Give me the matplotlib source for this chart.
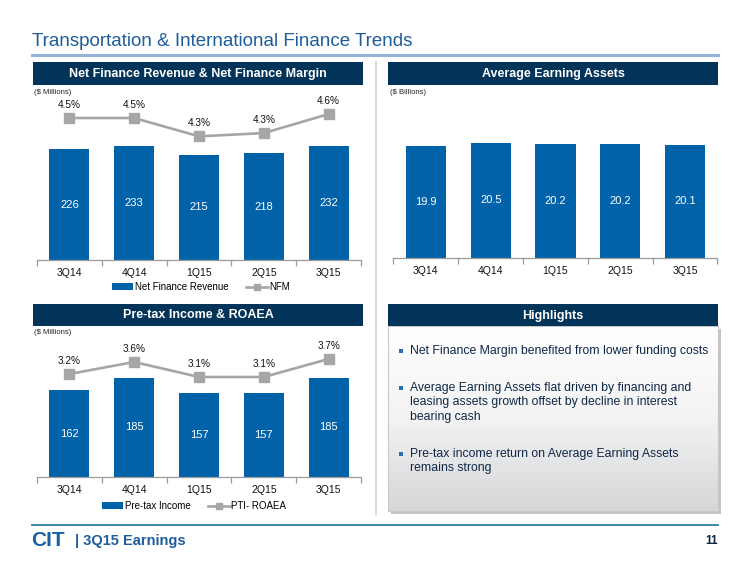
import numpy as np
import matplotlib
matplotlib.use("Agg")
import matplotlib.pyplot as plt
from matplotlib.patches import Rectangle
from matplotlib.lines import Line2D
from matplotlib.colors import LinearSegmentedColormap

plt.rcParams['font.family'] = ['Liberation Sans', 'DejaVu Sans']

# ---------------- data ----------------
quarters = ["3Q14", "4Q14", "1Q15", "2Q15", "3Q15"]
net_finance_revenue = [226, 233, 215, 218, 232]
nfm_pct = [4.54, 4.54, 4.26, 4.31, 4.60]
avg_earning_assets = [19.9, 20.5, 20.2, 20.2, 20.1]
pretax_income = [162, 185, 157, 157, 185]
pti_roaea_pct = [3.2, 3.6, 3.1, 3.1, 3.7]

title = "Transportation & International Finance Trends"
highlights = [
    ["Net Finance Margin benefited from lower funding costs"],
    ["Average Earning Assets flat driven by financing and",
     "leasing assets growth offset by decline in interest",
     "bearing cash"],
    ["Pre-tax income return on Average Earning Assets",
     "remains strong"],
]

# ---------------- style ----------------
W, H = 750, 563
BAR = '#0062a8'
NAVY = '#02345a'
GREY = '#a6a6a6'
TITLE_BLUE = '#1f5c9c'
TEXT_NAVY = '#0f2747'

fig = plt.figure(figsize=(W / 100, H / 100), dpi=100)


def frect(x0, y0, x1, y1):
    return [x0 / W, 1 - y1 / H, (x1 - x0) / W, (y1 - y0) / H]


def fp(x, y):
    return (x / W, 1 - y / H)


def ftext(x, y, s, **kw):
    fig.text(x / W, 1 - y / H, s, **kw)


def fbox(x0, y0, x1, y1, **kw):
    fig.patches.append(Rectangle(fp(x0, y1), (x1 - x0) / W, (y1 - y0) / H,
                                 transform=fig.transFigure, **kw))


def fline(xs, ys, **kw):
    fig.lines.append(Line2D([x / W for x in xs], [1 - y / H for y in ys],
                            transform=fig.transFigure, **kw))


# title and rules
ftext(32, 42, title, fontsize=13.5, color=TITLE_BLUE, va='center', ha='left')
fline([32, 718], [55, 55], color='#94b3d9', lw=2.2)
fline([376, 376], [62, 515], color='#cfd3d8', lw=1.2)
fline([32, 718], [525, 525], color='#2f7fa6', lw=1.3)

# header boxes
for (x0, y0, x1, y1, s) in [
        (33, 62, 363, 85, "Net Finance Revenue & Net Finance Margin"),
        (388, 62, 718, 85, "Average Earning Assets"),
        (33, 304, 363, 326, "Pre-tax Income & ROAEA"),
        (388, 304, 718, 326, "Highlights")]:
    fbox(x0, y0, x1, y1, facecolor=NAVY, edgecolor='none')
    ftext((x0 + x1) / 2, (y0 + y1) / 2 + 0.5, s, color='white', fontsize=9,
          fontweight='bold', ha='center', va='center')

ftext(34, 93, "($ Millions)", fontsize=5.5, color='#222222', va='center')
ftext(390, 93, "($ Billions)", fontsize=5.5, color='#222222', va='center')
ftext(34, 333, "($ Millions)", fontsize=5.5, color='#222222', va='center')


def style_axis(ax):
    for sp in ['top', 'left', 'right']:
        ax.spines[sp].set_visible(False)
    ax.spines['bottom'].set_color('#9a9a9a')
    ax.spines['bottom'].set_linewidth(0.9)
    ax.set_yticks([])
    ax.set_xlim(-0.5, 4.5)
    ax.set_xticks(range(5))
    ax.set_xticklabels(quarters, fontsize=7.5, color='#111111')
    ax.tick_params(axis='x', which='major', length=0, pad=6)
    ax.set_xticks(np.arange(-0.5, 5, 1), minor=True)
    ax.tick_params(axis='x', which='minor', length=4, color='#9a9a9a', width=0.9)
    ax.patch.set_alpha(0)


def bar_chart(rect, values, ytop, fmt):
    ax = fig.add_axes(rect)
    bars = ax.bar(range(5), values, width=0.62, color=BAR, zorder=2)
    ax.set_ylim(0, ytop)
    style_axis(ax)
    for i, v in enumerate(values):
        ax.text(i, v / 2, fmt.format(v), color='white', fontsize=8,
                ha='center', va='center', zorder=3)
    return ax, bars


def add_line(ax, values, lo, hi):
    ax2 = ax.twinx()
    ln, = ax2.plot(range(5), values, color=GREY, lw=1.9, marker='s',
                   markersize=6.5, markeredgecolor=GREY, zorder=4)
    ax2.set_ylim(lo, hi)
    ax2.set_yticks([])
    for sp in ax2.spines.values():
        sp.set_visible(False)
    for i, v in enumerate(values):
        ax2.annotate(f"{v:.1f}%", (i, v), xytext=(0, 9.7),
                     textcoords='offset points', ha='center', va='center',
                     fontsize=7.2, color='#111111')
    return ln


legend_kw = dict(loc='center', ncol=2, frameon=False, fontsize=7,
                 handlelength=2.2, handletextpad=0.2, columnspacing=1.8,
                 handleheight=0.6, markerscale=0.7)

# top-left chart
ax1, b1 = bar_chart(frect(37, 100, 361, 260), net_finance_revenue, 327, "{:d}")
l1 = add_line(ax1, nfm_pct, 2.372, 4.815)
fig.legend([b1, l1], ["Net Finance Revenue", "NFM"],
           bbox_to_anchor=fp(201, 287), **legend_kw)

# top-right chart
ax3, b3 = bar_chart(frect(393.5, 100, 717.5, 258), avg_earning_assets, 28.06, "{:.1f}")

# bottom-left chart
ax4, b4 = bar_chart(frect(37, 340, 361, 477), pretax_income, 256, "{:d}")
l4 = add_line(ax4, pti_roaea_pct, -0.233, 4.333)
fig.legend([b4, l4], ["Pre-tax Income", "PTI- ROAEA"],
           bbox_to_anchor=fp(194, 506), **legend_kw)

# highlights box (shadow behind, gradient body)
fbox(391, 329, 721, 514, facecolor='#c4c4c4', edgecolor='none', zorder=-2)
axh = fig.add_axes(frect(388, 326, 718, 511))
grad = np.linspace(0, 1, 256).reshape(-1, 1)
cm = LinearSegmentedColormap.from_list('g', ['#ffffff', '#f3f3f4', '#d5d6d8'])
axh.imshow(grad, aspect='auto', cmap=cm, extent=[0, 1, 0, 1], origin='upper')
axh.set_xticks([])
axh.set_yticks([])
for sp in axh.spines.values():
    sp.set_color('#c8c8c8')
    sp.set_linewidth(0.8)

y = 351
for group in highlights:
    fbox(398.5, y - 2, 402.5, y + 2, facecolor='#2b6cb3', edgecolor='none',
         zorder=3)
    for line in group:
        ftext(410, y, line, fontsize=8.85, color=TEXT_NAVY, va='center',
              ha='left', zorder=3)
        y += 14.7
    y += 22

# footer
ftext(31, 541, "CIT", fontsize=15, fontweight='heavy', color='#1b5fa3',
      va='center', ha='left')
ftext(75, 541, "| 3Q15 Earnings", fontsize=10.5, fontweight='bold',
      color=TITLE_BLUE, va='center', ha='left')
ftext(718, 541, "11", fontsize=8.5, fontweight='bold', color=TEXT_NAVY,
      va='center', ha='right')

fig.savefig("out.png", dpi=100)
